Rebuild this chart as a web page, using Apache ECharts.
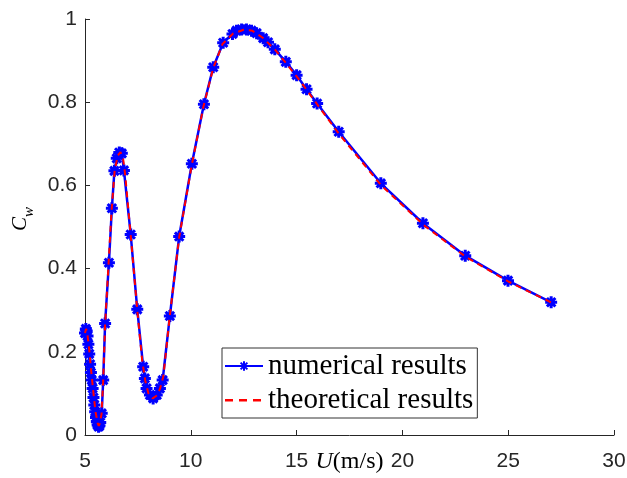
<!DOCTYPE html>
<html>
<head>
<meta charset="utf-8">
<script src="https://cdn.jsdelivr.net/npm/echarts@6/dist/echarts.min.js"></script>
<style>
html,body{margin:0;padding:0;background:#fff;}
#chart{width:627px;height:478px;}
</style>
</head>
<body>
<div id="chart"></div>
<script>
// Numerical results (U in m/s, Cw)
const uNum = [5.00,5.04,5.08,5.12,5.16,5.20,5.24,5.28,5.32,5.36,5.40,5.44,5.48,5.52,5.56,5.60,5.64,5.68,5.72,5.79,5.86,5.95,6.13,6.27,6.39,6.50,6.62,6.74,6.84,7.16,7.47,7.75,7.83,7.91,8.07,8.22,8.39,8.54,8.67,9.01,9.45,10.05,10.62,11.06,11.53,11.97,12.16,12.40,12.63,12.87,13.11,13.42,13.65,13.97,14.49,15.00,15.47,15.97,16.99,18.98,20.97,22.97,24.99,27.03];
const cwNum = [0.245,0.255,0.250,0.238,0.218,0.195,0.170,0.150,0.132,0.112,0.090,0.072,0.056,0.042,0.032,0.024,0.020,0.022,0.030,0.052,0.132,0.268,0.414,0.545,0.635,0.665,0.679,0.677,0.636,0.482,0.302,0.164,0.136,0.112,0.096,0.088,0.096,0.112,0.132,0.286,0.477,0.652,0.795,0.884,0.943,0.964,0.972,0.975,0.975,0.972,0.966,0.954,0.944,0.927,0.897,0.865,0.831,0.797,0.729,0.605,0.509,0.431,0.371,0.319];

// Theoretical results
const uTheo = [5.00,5.05,5.10,5.20,5.30,5.40,5.50,5.60,5.65,5.70,5.78,5.86,5.95,6.10,6.25,6.40,6.55,6.68,6.80,6.90,7.16,7.47,7.70,7.85,8.00,8.20,8.40,8.55,8.70,9.00,9.45,10.05,10.60,11.06,11.50,12.00,12.50,12.90,13.40,14.00,14.50,15.00,15.50,16.00,17.00,19.00,21.00,23.00,25.00,27.10];
const cwTheo = [0.245,0.255,0.248,0.205,0.150,0.100,0.055,0.028,0.022,0.028,0.050,0.130,0.265,0.400,0.535,0.635,0.672,0.680,0.665,0.625,0.480,0.300,0.180,0.130,0.100,0.088,0.095,0.112,0.140,0.283,0.475,0.650,0.790,0.882,0.940,0.965,0.974,0.972,0.955,0.925,0.894,0.862,0.828,0.793,0.724,0.600,0.505,0.428,0.369,0.317];

const xTickLabels = ['5','10','15','20','25','30'];
const yTickLabels = ['0','0.2','0.4','0.6','0.8','1'];
const seriesNames = ['numerical results','theoretical results'];

const numData = uNum.map((u,i)=>[u,cwNum[i]]);
const theoData = uTheo.map((u,i)=>[u,cwTheo[i]]);

const asterisk = 'path://M0,-10L0,10M-10,0L10,0M-7.07,-7.07L7.07,7.07M-7.07,7.07L7.07,-7.07';
const dashIcon = 'path://M0,0M38,12M0,5h8v2.4h-8zM14,5h8v2.4h-8zM28,5h8v2.4h-8z';
const axisColor = '#262626';

const chart = echarts.init(document.getElementById('chart'));
chart.setOption({
  animation: false,
  backgroundColor: '#ffffff',
  grid: {left: 85, right: 13, top: 19, bottom: 43, containLabel: false, outerBoundsMode: 'none'},
  legend: {
    orient: 'vertical',
    left: 222, top: 348,
    itemWidth: 38, itemHeight: 12, itemGap: 0,
    padding: [1, 4, 1, 2],
    backgroundColor: '#ffffff',
    borderColor: '#333333', borderWidth: 1,
    textStyle: {fontFamily: 'Liberation Serif', fontSize: 29, color: '#000', lineHeight: 34},
    data: [{name: seriesNames[0]}, {name: seriesNames[1], icon: dashIcon}]
  },
  xAxis: {
    type: 'value', min: 5, max: 30, interval: 5,
    name: '{u|U}{r|(m/s)}', nameLocation: 'middle', nameGap: 15, nameMoveOverlap: false,
    nameTextStyle: {
      rich: {
        u: {fontFamily: 'Liberation Serif', fontStyle: 'italic', fontSize: 24, color: '#000'},
        r: {fontFamily: 'Liberation Serif', fontSize: 24, color: '#000'}
      }
    },
    axisLine: {show: true, lineStyle: {color: axisColor, width: 1}},
    axisTick: {show: true, inside: true, length: 5, lineStyle: {color: axisColor}},
    axisLabel: {
      fontFamily: 'Liberation Sans', fontSize: 21, color: axisColor, margin: 16,
      formatter: (v)=>{ const i = Math.round((v-5)/5); return xTickLabels[i] !== undefined ? xTickLabels[i] : ''; }
    },
    splitLine: {show: false}
  },
  yAxis: {
    type: 'value', min: 0, max: 1, interval: 0.2,
    name: '{c|C}{w|w}', nameLocation: 'middle', nameGap: 54, nameRotate: 90, nameMoveOverlap: false,
    nameTextStyle: {
      padding: [0, 0, 0, 16],
      rich: {
        c: {fontFamily: 'Liberation Serif', fontStyle: 'italic', fontSize: 21, color: '#000', verticalAlign: 'bottom'},
        w: {fontFamily: 'Liberation Serif', fontStyle: 'italic', fontSize: 15, color: '#000', verticalAlign: 'bottom', padding: [0,0,-6,0]}
      }
    },
    axisLine: {show: true, lineStyle: {color: axisColor, width: 1}},
    axisTick: {show: true, inside: true, length: 5, lineStyle: {color: axisColor}},
    axisLabel: {
      fontFamily: 'Liberation Sans', fontSize: 21, color: axisColor, margin: 8,
      formatter: (v)=>{ const i = Math.round(v/0.2); return yTickLabels[i] !== undefined ? yTickLabels[i] : ''; }
    },
    splitLine: {show: false}
  },
  series: [
    {
      name: seriesNames[0], type: 'line', data: numData,
      symbol: asterisk, symbolSize: 12, showAllSymbol: true,
      lineStyle: {color: '#0000ff', width: 2.5},
      itemStyle: {color: '#0000ff', borderColor: '#0000ff', borderWidth: 3},
      z: 2
    },
    {
      name: seriesNames[1], type: 'line', data: theoData,
      symbol: 'none', smooth: false,
      lineStyle: {color: '#ff0000', width: 2, type: [6, 5]},
      itemStyle: {color: '#ff0000'},
      z: 3
    }
  ]
});
</script>
</body>
</html>
